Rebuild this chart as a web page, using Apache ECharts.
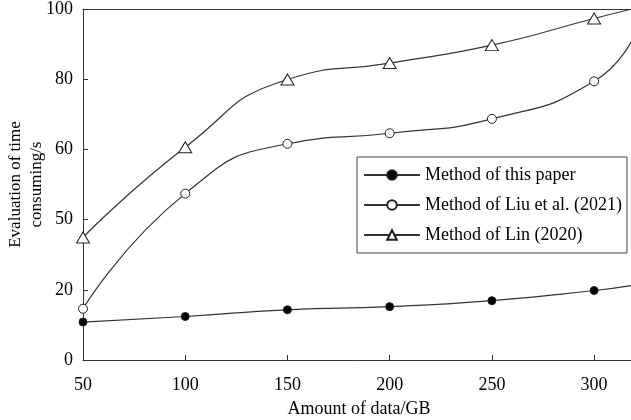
<!DOCTYPE html>
<html>
<head>
<meta charset="utf-8">
<script src="https://cdn.jsdelivr.net/npm/echarts@6/dist/echarts.min.js"></script>
<style>html,body{margin:0;padding:0;background:#fff}#c{width:631px;height:420px}</style>
</head>
<body>
<div id="c"></div>
<script>
const xValues = [50, 100, 150, 200, 250, 300, 320];
const thisPaper = [10.8, 12.4, 14.3, 15.2, 16.9, 19.8, 21.4];
const liu2021 = [14.6, 47.4, 61.6, 64.6, 68.7, 79.4, 92.8];
const lin2020 = [34.9, 60.6, 79.9, 84.6, 89.7, 97.3, 100.2];
const seriesNames = ['Method of this paper', 'Method of Liu et al. (2021)', 'Method of Lin (2020)'];
const yTickValues = [0, 20, 40, 60, 80, 100];
const yTickLabels = ['0', '20', '50', '60', '80', '100'];
const xTickLabels = ['50', '100', '150', '200', '250', '300'];

const FONT = 'Liberation Serif';
const chart = echarts.init(document.getElementById('c'), null, {renderer: 'canvas'});
function pts(arr) { return xValues.map((x, i) => [x, arr[i]]); }
const lineStyle = {color: '#333', width: 1.2};
const last = xValues.length - 1;
function mkSeries(name, data, symbol, size, fill) {
  return {
    name: name, type: 'line', data: pts(data), smooth: 0.55,
    symbol: symbol,
    symbolSize: (v, p) => p.dataIndex === last ? 0 : size,
    showAllSymbol: true,
    lineStyle: lineStyle,
    itemStyle: {color: fill, borderColor: '#222', borderWidth: 1},
    emphasis: {disabled: true},
    clip: true
  };
}
const s1 = mkSeries(seriesNames[0], thisPaper, 'circle', 8, '#000');
const s2 = mkSeries(seriesNames[1], liu2021, 'circle', 9, '#fff');
const s3 = mkSeries(seriesNames[2], lin2020, 'triangle', [13, 11], '#fff');

chart.setOption({
  animation: false,
  backgroundColor: '#fff',
  textStyle: {fontFamily: FONT},
  grid: {left: 83, top: 9, width: 552, height: 351, outerBoundsMode: 'none', containLabel: false},
  legend: {
    orient: 'vertical', left: 357, top: 157,
    data: seriesNames,
    itemWidth: 56, itemHeight: 12, itemGap: 12,
    padding: [9, 5, 9, 6],
    borderColor: '#444', borderWidth: 1, backgroundColor: '#fff',
    textStyle: {fontFamily: FONT, fontSize: 18, color: '#000'},
    selectedMode: false
  },
  xAxis: [{
    type: 'value', min: 50, max: 320, interval: 50,
    name: 'Amount of data/GB', nameLocation: 'middle', nameGap: 40, nameMoveOverlap: false,
    nameTextStyle: {fontFamily: FONT, fontSize: 18, color: '#000'},
    axisLine: {show: true, lineStyle: {color: '#333', width: 1}},
    axisTick: {show: true, inside: true, length: 5, lineStyle: {color: '#333'}},
    axisLabel: {fontFamily: FONT, fontSize: 18, color: '#000', margin: 16, showMaxLabel: false,
      formatter: v => { const i = xTickLabels.indexOf(String(v)); return i >= 0 ? xTickLabels[i] : ''; }},
    splitLine: {show: false}
  }, {
    type: 'value', position: 'top', min: 50, max: 320,
    axisLine: {show: true, onZero: false, lineStyle: {color: '#333', width: 1}},
    axisTick: {show: false}, axisLabel: {show: false}, splitLine: {show: false}
  }],
  yAxis: {
    type: 'value', min: 0, max: 100, interval: 20,
    name: 'Evaluation of time\nconsuming/s', nameLocation: 'middle', nameGap: 36, nameRotate: 90,
    nameMoveOverlap: false,
    nameTextStyle: {fontFamily: FONT, fontSize: 17, color: '#000', lineHeight: 21},
    axisLine: {show: true, lineStyle: {color: '#333', width: 1}},
    axisTick: {show: true, inside: true, length: 5, lineStyle: {color: '#333'}},
    axisLabel: {fontFamily: FONT, fontSize: 18, color: '#000', margin: 10,
      formatter: v => { const i = yTickValues.indexOf(v); return i >= 0 ? yTickLabels[i] : ''; }},
    splitLine: {show: false}
  },
  series: [s1, s2, s3]
});
</script>
</body>
</html>
